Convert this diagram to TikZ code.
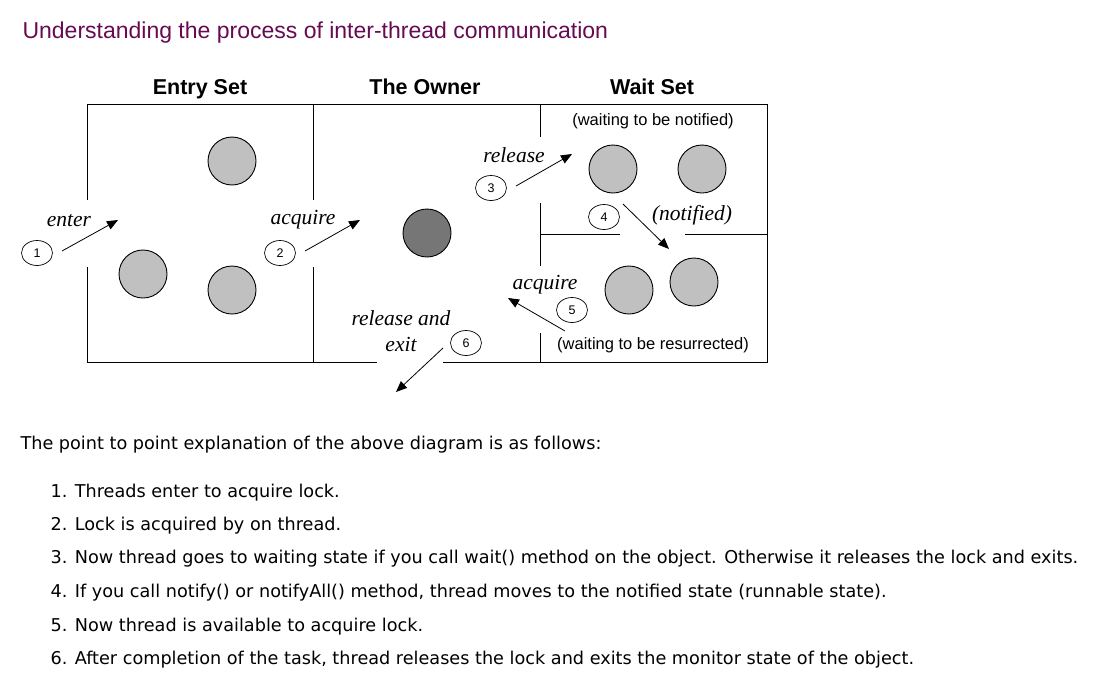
\documentclass[tikz,border=0pt]{standalone}
\usepackage{fontspec}
\setmainfont{Liberation Sans}
\newfontfamily\verdana{DejaVu Sans}
\newfontfamily\timesfont{Liberation Serif}
\usetikzlibrary{positioning,arrows.meta,shapes.geometric}
\definecolor{titleplum}{RGB}{102,10,82}
\definecolor{threadgray}{RGB}{192,192,192}
\definecolor{ownergray}{RGB}{118,118,118}

\begin{document}
\begin{tikzpicture}[x=1pt,y=-1pt,
      thread/.style={circle,draw=black,line width=0.9pt,minimum size=48pt,
                     inner sep=0pt,fill=threadgray},
      owner/.style={thread,fill=ownergray},
      setlabel/.style={anchor=base,font=\bfseries\fontsize{21.5}{24}\selectfont},
      verb/.style={font=\timesfont\itshape\fontsize{21.5}{24}\selectfont},
      note/.style={font=\fontsize{16.5}{19}\selectfont},
      stepnum/.style={ellipse,draw=black,line width=0.7pt,minimum width=31pt,
                      minimum height=25pt,inner sep=0pt,font=\fontsize{12.5}{13}\selectfont},
      wall/.style={line width=1pt},
      flow/.style={-{Triangle[length=11pt,width=9pt]},line width=0.8pt},
      item/.style={anchor=west,font=\verdana\fontsize{17.65}{20}\selectfont}]

    \useasboundingbox (0,0) rectangle (1108,683);

    \node[anchor=west,text=titleplum,font=\fontsize{23}{27}\selectfont] (title) at (19,33)
      {Understanding the process of inter-thread communication};

    \node[setlabel] (entryset) at (200,94) {Entry Set};
    \node[setlabel] (theowner) at (425,94) {The Owner};
    \node[setlabel] (waitset)  at (652,94) {Wait Set};

    \draw[wall] (87,200) -- (87,104) -- (767,104) -- (767,362) -- (443,362);
    \draw[wall] (377,362) -- (87,362) -- (87,267);
    \draw[wall] (313,104) -- (313,200);
    \draw[wall] (313,267) -- (313,362);
    \draw[wall] (540,104) -- (540,137);
    \draw[wall] (540,203) -- (540,266);
    \draw[wall] (540,333) -- (540,362);
    \draw[wall] (540,234) -- (620,234);
    \draw[wall] (685,234) -- (767,234);

    \node[thread] (entry1) at (232,161) {};
    \node[thread] (entry2) at (143,274) {};
    \node[thread] (entry3) at (232,290) {};
    \node[owner]  (lockowner) at (427,233) {};
    \node[thread] (wait1) at (613,169) {};
    \node[thread] (wait2) at (702,169) {};
    \node[thread] (ready1) at (629,290) {};
    \node[thread] (ready2) at (694,282) {};

    \node[note] (notifiednote) at (653,121) {(waiting to be notified)};
    \node[note] (resurrectnote) at (653,345) {(waiting to be resurrected)};

    \node[verb] (enterlbl)    at (69,221)  {enter};
    \node[verb] (acquirelbl)  at (303,220) {acquire};
    \node[verb] (releaselbl)  at (514,155) {release};
    \node[verb] (notifiedlbl) at (692,215) {(notified)};
    \node[verb] (reacquirelbl) at (545,285) {acquire};
    \node[verb] (exitlbl1)    at (401,318) {release and};
    \node[verb] (exitlbl2)    at (401,344) {exit};

    \node[stepnum] (n1) at (37,253)  {1};
    \node[stepnum] (n2) at (280,253) {2};
    \node[stepnum] (n3) at (491,188) {3};
    \node[stepnum] (n4) at (604,217) {4};
    \node[stepnum] (n5) at (572,310) {5};
    \node[stepnum] (n6) at (466,343) {6};

    \coordinate (enterfrom)    at (62,251);
    \coordinate (enterto)      at (118,220);
    \coordinate (acquirefrom)  at (305,251);
    \coordinate (acquireto)    at (360,220);
    \coordinate (releasefrom)  at (516,186);
    \coordinate (releaseto)    at (572,154);
    \coordinate (notifyfrom)   at (623,204);
    \coordinate (notifyto)     at (669,249);
    \coordinate (reacquirefrom) at (565,331);
    \coordinate (reacquireto)  at (508,298);
    \coordinate (exitfrom)     at (443,348);
    \coordinate (exitto)       at (396,392);

    \draw[flow] (enterfrom) -- (enterto);
    \draw[flow] (acquirefrom) -- (acquireto);
    \draw[flow] (releasefrom) -- (releaseto);
    \draw[flow] (notifyfrom) -- (notifyto);
    \draw[flow] (reacquirefrom) -- (reacquireto);
    \draw[flow] (exitfrom) -- (exitto);

    \node[item] (intro) at (17,445)
      {The point to point explanation of the above diagram is as follows:};
    \node[item] (item1) at (47,493) {1. Threads enter to acquire lock.};
    \node[item] (item2) at (47,526) {2. Lock is acquired by on thread.};
    \node[item] (item3) at (47,559) {3. Now thread goes to waiting state if you call wait() method on the object. Otherwise it releases the lock and exits.};
    \node[item] (item4) at (47,593) {4. If you call notify() or notifyAll() method, thread moves to the notified state (runnable state).};
    \node[item] (item5) at (47,627) {5. Now thread is available to acquire lock.};
    \node[item] (item6) at (47,660) {6. After completion of the task, thread releases the lock and exits the monitor state of the object.};
  \end{tikzpicture}
\end{document}
